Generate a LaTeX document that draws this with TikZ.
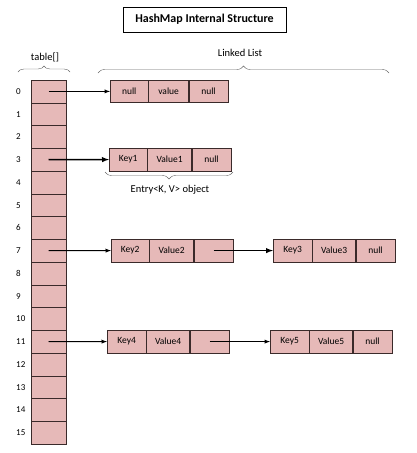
\documentclass[tikz,border=0pt]{standalone}
\usepackage{fontspec}
\setmainfont{Carlito}
\usetikzlibrary{positioning,decorations.pathreplacing}
\definecolor{cellpink}{HTML}{E6B9B8}
\definecolor{cellline}{HTML}{3A2A2A}

\begin{document}
\begin{tikzpicture}[x=1pt,y=-1pt,
  slot/.style={draw=cellline,fill=cellpink,minimum width=35pt,minimum height=22.75pt,inner sep=0pt},
  cell/.style={draw=cellline,fill=cellpink,minimum height=22.5pt,inner sep=0pt,font=\fontsize{9.5}{11}\selectfont},
  idx/.style={anchor=west,inner sep=0pt,font=\fontsize{9}{11}\selectfont},
  lbl/.style={inner sep=0pt,font=\fontsize{10.5}{12}\selectfont},
  brc/.style={draw=black!60,decorate,decoration={brace,amplitude=#1}}]
\useasboundingbox[fill=white] (0,0) rectangle (416,453);

\node[draw,line width=0.8pt,minimum width=163pt,minimum height=25pt,font=\fontsize{12}{14}\bfseries]
  (title) at (204.5,19.5) {HashMap Internal Structure};

% bucket array
\foreach \i in {0,...,15} {
  \node[slot] (t\i) at (48.5,91.4+22.75*\i) {};
  \node[idx] (i\i) at (16,91.4+22.75*\i) {\i};
}
\node[lbl] (tbl) at (45,57) {table[]};
\node[lbl] (lst) at (240,53) {Linked List};
\draw[brc=6pt] (18,72) -- (70,72);
\draw[brc=7pt] (98,73) -- (389,73);

% entries
\node[cell,anchor=west,minimum width=38pt] (k0) at (110,91.4) {null};
\node[cell,minimum width=40pt,right=0pt of k0] (v0) {value};
\node[cell,minimum width=39pt,right=0pt of v0] (p0) {null};

\node[cell,anchor=west,minimum width=38pt] (k1) at (109,159.6) {Key1};
\node[cell,minimum width=44pt,right=0pt of k1] (v1) {Value1};
\node[cell,minimum width=39pt,right=0pt of v1] (p1) {null};
\draw[brc=7pt] (233,172) -- (105,172);
\node[lbl] (ent) at (170,190) {Entry<K, V> object};

\node[cell,anchor=west,minimum width=38pt] (k2) at (111,250.6) {Key2};
\node[cell,minimum width=44pt,right=0pt of k2] (v2) {Value2};
\node[cell,minimum width=39pt,right=0pt of v2] (p2) {};
\node[cell,anchor=west,minimum width=39pt] (k3) at (273,250.6) {Key3};
\node[cell,minimum width=43pt,right=0pt of k3] (v3) {Value3};
\node[cell,minimum width=39pt,right=0pt of v3] (p3) {null};

\node[cell,anchor=west,minimum width=39pt] (k4) at (107,341.6) {Key4};
\node[cell,minimum width=43pt,right=0pt of k4] (v4) {Value4};
\node[cell,minimum width=39pt,right=0pt of v4] (p4) {};
\node[cell,anchor=west,minimum width=39pt] (k5) at (270,341.6) {Key5};
\node[cell,minimum width=43pt,right=0pt of k5] (v5) {Value5};
\node[cell,minimum width=39pt,right=0pt of v5] (p5) {null};

% links
\path[-latex,line width=0.9pt]
(t0.center) edge (k0.west)
(t7.center) edge (k2.west)
(t11.center) edge (k4.west)
(p4.center) edge (k5.west);
\path[-latex,line width=1.4pt]
(t3.center) edge (k1.west)
(p2.center) edge (k3.west);
\end{tikzpicture}
\end{document}
